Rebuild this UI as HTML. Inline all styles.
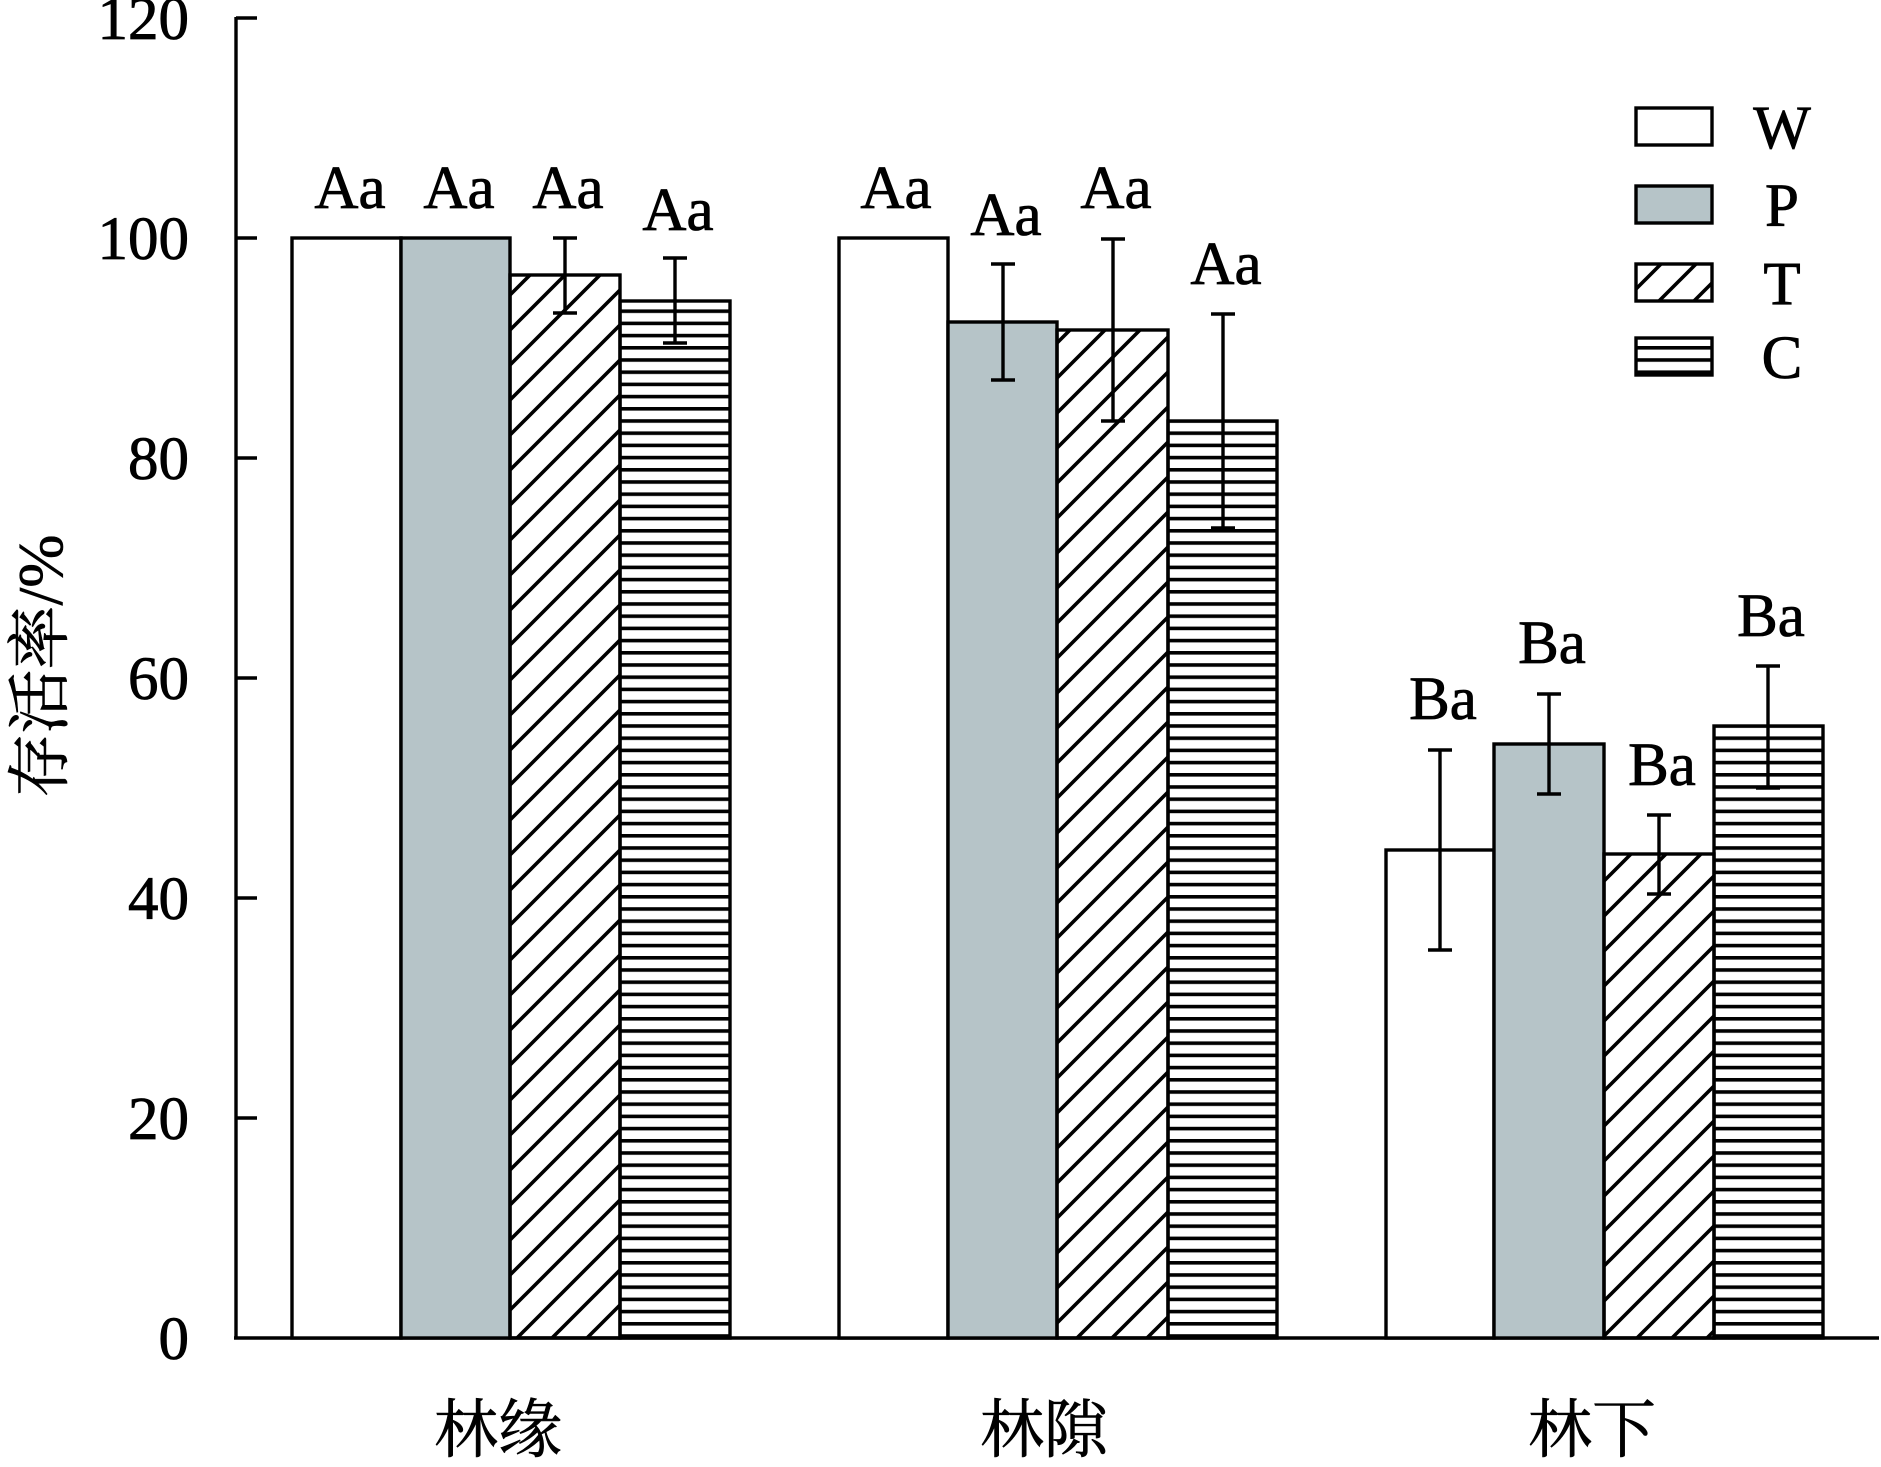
<!DOCTYPE html>
<html><head><meta charset="utf-8"><style>html,body{margin:0;padding:0;background:#fff}svg{display:block}</style></head>
<body>
<svg width="1881" height="1467" viewBox="0 0 1881 1467" xmlns="http://www.w3.org/2000/svg" font-family="'Liberation Serif','Noto Serif CJK SC',serif">
<defs>
<pattern id="diag" patternUnits="userSpaceOnUse" width="35" height="35">
<path d="M-5,5 L5,-5 M0,35 L35,0 M30,40 L40,30" stroke="#000" stroke-width="3.6"/>
</pattern>
<pattern id="horiz" patternUnits="userSpaceOnUse" width="20" height="12.2">
<rect x="0" y="4.4" width="20" height="3.6" fill="#000"/>
</pattern>
</defs>
<g stroke="#000" stroke-width="3.4" fill="none">
<line x1="236" y1="17" x2="236" y2="1339"/>
<line x1="234" y1="1338" x2="1879" y2="1338"/>
<line x1="236" y1="18" x2="257" y2="18"/>
<line x1="236" y1="238" x2="257" y2="238"/>
<line x1="236" y1="458" x2="257" y2="458"/>
<line x1="236" y1="678" x2="257" y2="678"/>
<line x1="236" y1="898" x2="257" y2="898"/>
<line x1="236" y1="1118" x2="257" y2="1118"/>
</g>
<g font-size="61" text-anchor="end" fill="#000" stroke="#000" stroke-width="0.8">
<text x="189" y="39">120</text>
<text x="189" y="259">100</text>
<text x="189" y="479">80</text>
<text x="189" y="699">60</text>
<text x="189" y="919">40</text>
<text x="189" y="1139">20</text>
<text x="189" y="1359">0</text>
</g>
<text transform="translate(62,666) rotate(-90)" font-size="64" text-anchor="middle" fill="#000" stroke="#000" stroke-width="0.6">存活率/%</text>
<g font-size="64" text-anchor="middle" fill="#000" stroke="#000" stroke-width="0.6">
<text x="498" y="1452">林缘</text>
<text x="1044" y="1452">林隙</text>
<text x="1592" y="1452">林下</text>
</g>
<g stroke="#000" stroke-width="3.4">
<rect x="292" y="238" width="109" height="1100" fill="#fff"/>
<rect x="401" y="238" width="109" height="1100" fill="#b6c4c8"/>
<rect x="510" y="275" width="110" height="1063" fill="url(#diag)"/>
<rect x="620" y="301" width="110" height="1037" fill="url(#horiz)"/>
<rect x="839" y="238" width="109" height="1100" fill="#fff"/>
<rect x="948" y="322" width="109" height="1016" fill="#b6c4c8"/>
<rect x="1057" y="330" width="111" height="1008" fill="url(#diag)"/>
<rect x="1168" y="421" width="109" height="917" fill="url(#horiz)"/>
<rect x="1386" y="850" width="108" height="488" fill="#fff"/>
<rect x="1494" y="744" width="110" height="594" fill="#b6c4c8"/>
<rect x="1604" y="854" width="110" height="484" fill="url(#diag)"/>
<rect x="1714" y="726" width="109" height="612" fill="url(#horiz)"/>
</g>
<g stroke="#000" stroke-width="3.4" fill="none">
<path d="M565,238V313M553,238H577M553,313H577"/>
<path d="M675,258V343M663,258H687M663,343H687"/>
<path d="M1003,264V380M991,264H1015M991,380H1015"/>
<path d="M1113,239V421M1101,239H1125M1101,421H1125"/>
<path d="M1223,314V528M1211,314H1235M1211,528H1235"/>
<path d="M1440,750V950M1428,750H1452M1428,950H1452"/>
<path d="M1549,694V794M1537,694H1561M1537,794H1561"/>
<path d="M1659,815V894M1647,815H1671M1647,894H1671"/>
<path d="M1768,666V788M1756,666H1780M1756,788H1780"/>
</g>
<g font-size="61" text-anchor="middle" fill="#000" stroke="#000" stroke-width="0.8">
<text x="350" y="208">Aa</text>
<text x="459" y="208">Aa</text>
<text x="568" y="208">Aa</text>
<text x="678" y="230">Aa</text>
<text x="896" y="208">Aa</text>
<text x="1006" y="235">Aa</text>
<text x="1116" y="208">Aa</text>
<text x="1226" y="284">Aa</text>
<text x="1443" y="719">Ba</text>
<text x="1552" y="663">Ba</text>
<text x="1662" y="785">Ba</text>
<text x="1771" y="636">Ba</text>
</g>
<g stroke="#000" stroke-width="3.4">
<rect x="1636" y="108" width="76" height="37" fill="#fff"/>
<rect x="1636" y="186" width="76" height="37" fill="#b6c4c8"/>
<rect x="1636" y="264" width="76" height="37" fill="url(#diag)"/>
<rect x="1636" y="338" width="76" height="37" fill="url(#horiz)"/>
</g>
<g font-size="61" text-anchor="middle" fill="#000" stroke="#000" stroke-width="0.8">
<text x="1782" y="148">W</text>
<text x="1782" y="226">P</text>
<text x="1782" y="304">T</text>
<text x="1782" y="378">C</text>
</g>
</svg>
</body></html>
